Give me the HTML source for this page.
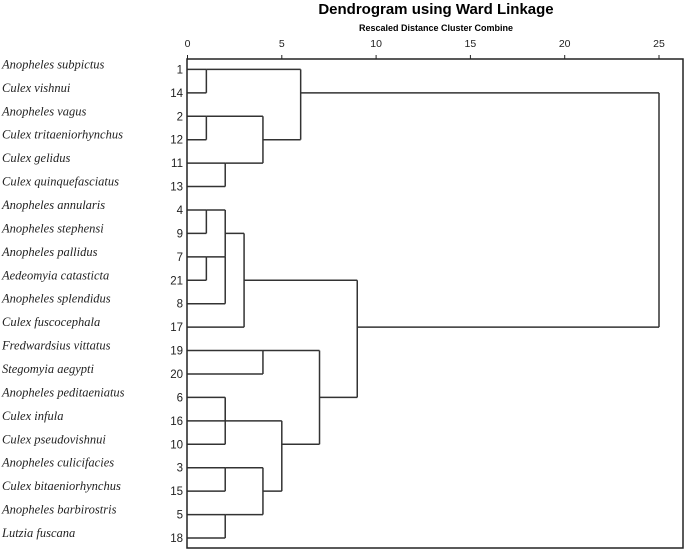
<!DOCTYPE html>
<html><head><meta charset="utf-8"><style>
body{margin:0;background:#fff;width:685px;height:550px;overflow:hidden}
svg{display:block}
</style></head><body>
<svg id="chart" width="685" height="550" xmlns="http://www.w3.org/2000/svg">
<text x="436" y="14" text-anchor="middle" font-family="Liberation Sans, sans-serif" font-size="15" font-weight="bold">Dendrogram using Ward Linkage</text>
<text x="436" y="31" text-anchor="middle" font-family="Liberation Sans, sans-serif" font-size="9" font-weight="bold">Rescaled Distance Cluster Combine</text>
<g id="g"></g>
</svg>
<script>
const leafIds = ["1","14","2","12","11","13","4","9","7","21","8","17","19","20","6","16","10","3","15","5","18"];
const leafNames = ["Anopheles subpictus","Culex vishnui","Anopheles vagus","Culex tritaeniorhynchus","Culex gelidus","Culex quinquefasciatus","Anopheles annularis","Anopheles stephensi","Anopheles pallidus","Aedeomyia catasticta","Anopheles splendidus","Culex fuscocephala","Fredwardsius vittatus","Stegomyia aegypti","Anopheles peditaeniatus","Culex infula","Culex pseudovishnui","Anopheles culicifacies","Culex bitaeniorhynchus","Anopheles barbirostris","Lutzia fuscana"];
const tickValues = [0,5,10,15,20,25];
// merges: child nodes (leaf index "Lk" or merge index "Mk"), height, output row
const mergeA = ["L0","L2","L4","M1","M0","L6","L8","M5","M7","M8","L12","L14","M11","L17","L19","M13","M12","M10","M9","M4"];
const mergeB = ["L1","L3","L5","M2","M3","L7","L9","M6","L10","L11","L13","L15","L16","L18","L20","M14","M15","M16","M17","M18"];
const mergeH = [1,1,2,4,6,1,1,2,2,3,4,2,2,2,2,4,5,7,9,25];
const mergeRow = [0,2,4,3,1,6,8,8,7,9,12,14,15,17,19,18,16,14,11,6];

const X0=187.5, PX=18.86, L=187, T=59, R=683, B=548, ROW0=69.4, ROWH=23.43;
const xs=v=>X0+v*PX, ys=r=>ROW0+r*ROWH;
const g=document.getElementById('g'), NS="http://www.w3.org/2000/svg";
function mk(t,a){const e=document.createElementNS(NS,t);for(const k in a)e.setAttribute(k,a[k]);g.appendChild(e);return e;}
const fr=mk('rect',{x:L,y:T,width:R-L,height:B-T,fill:'none',stroke:'#222','stroke-width':1.5});


tickValues.forEach(v=>{
 const t=mk('line',{x1:xs(v),x2:xs(v),y1:T-4,y2:T,stroke:'#222'});
 
 
 const tx=mk('text',{x:xs(v),y:T-12,'text-anchor':'middle','font-family':'Liberation Sans, sans-serif','font-size':10.5,fill:'#222'});
 tx.textContent=v;
 
 
});
leafIds.forEach((id,i)=>{
 const n=mk('text',{x:183,y:ys(i)+4,'text-anchor':'end','font-family':'Liberation Sans, sans-serif','font-size':11.5,fill:'#222'});
 n.textContent=id;
 
 
 const s=mk('text',{x:2,y:ys(i)-1,'font-family':'Liberation Serif, serif','font-style':'italic','font-size':12.5,fill:'#222'});
 s.textContent=leafNames[i];
 
 
});
function node(c){const k=+c.slice(1);return c[0]==='L'?{h:0,r:k}:{h:mergeH[k],r:mergeRow[k]};}
for(let i=0;i<mergeA.length;i++){
 const a=node(mergeA[i]), b=node(mergeB[i]), h=mergeH[i];
 [a,b].forEach(c=>{
  const hl=mk('line',{x1:xs(c.h),x2:xs(h),y1:ys(c.r),y2:ys(c.r),stroke:'#333','stroke-width':1.5});
  
  
 });
 const vl=mk('line',{x1:xs(h),x2:xs(h),y1:ys(a.r),y2:ys(b.r),stroke:'#333','stroke-width':1.5});
 
 
}
</script>
</body></html>
